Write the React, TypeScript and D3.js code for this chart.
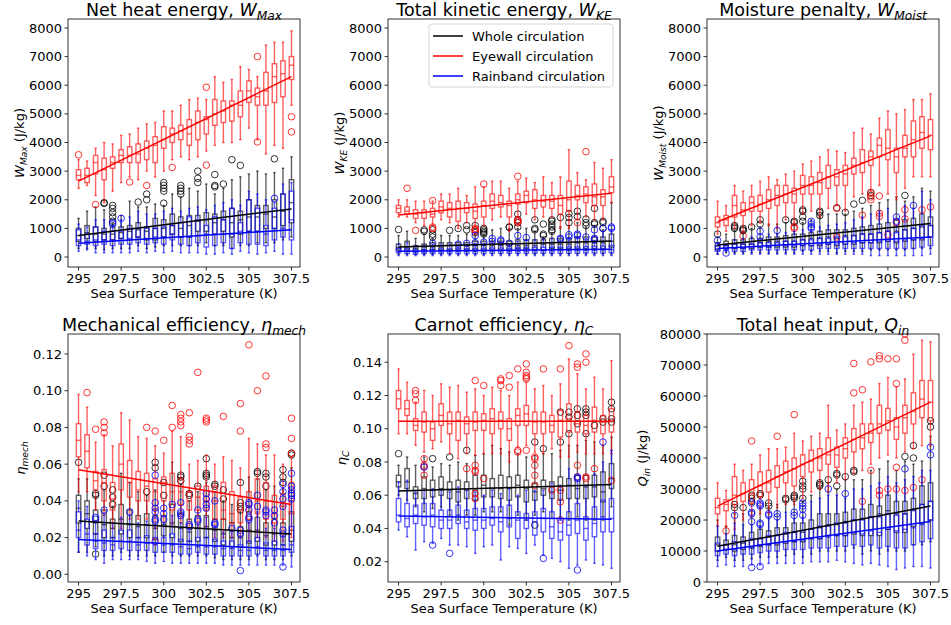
import React from "react";
import * as d3 from "d3";

type Box = [number, number, number, number, number]; // whisker low, q1, median, q3, whisker high
type Pt = [number, number]; // [sst, value]

const sst = [295, 295.5, 296, 296.5, 297, 297.5, 298, 298.5, 299, 299.5, 300, 300.5, 301, 301.5, 302, 302.5, 303, 303.5, 304, 304.5, 305, 305.5, 306, 306.5, 307, 307.5];
const xTicks = [295, 297.5, 300, 302.5, 305, 307.5];
const wTicks = [0, 1000, 2000, 3000, 4000, 5000, 6000, 7000, 8000];
const etaMechTicks = [0, 0.02, 0.04, 0.06, 0.08, 0.1, 0.12];
const etaCTicks = [0.02, 0.04, 0.06, 0.08, 0.1, 0.12, 0.14];
const qTicks = [0, 10000, 20000, 30000, 40000, 50000, 60000, 70000, 80000];
const legendLabels = ["Whole circulation", "Eyewall circulation", "Rainband circulation"];

// ---- Net heat energy W_Max
const wmaxWhole: Box[] = [[300,550,750,1000,1350],[300,650,850,1100,1600],[300,550,800,1050,1750],[250,600,800,1000,1650],[300,600,800,1050,1200],[300,650,850,1050,1450],[300,600,900,1100,1950],[400,700,950,1200,1750],[300,600,900,1050,1750],[350,600,1000,1350,1850],[400,700,1000,1300,1800],[400,800,1100,1500,2200],[400,700,1000,1400,2100],[400,700,1100,1450,2400],[400,900,1250,1450,2300],[500,900,1300,1550,2550],[400,800,1200,1500,2200],[400,900,1300,1600,2400],[300,700,1200,1700,2700],[400,800,1300,1600,2800],[400,900,1400,2000,2900],[500,900,1400,1800,3000],[500,1000,1500,1800,2900],[500,1000,1400,2000,2950],[600,1100,1600,2200,3100],[700,1200,1900,2700,3500]];
const wmaxEye: Box[] = [[2400,2700,2850,3050,3400],[2500,2600,2850,3100,3350],[2150,2900,3300,3550,3800],[1900,2700,3050,3450,4000],[2300,3100,3300,3500,3950],[2600,3300,3550,3750,4250],[2800,3300,3550,3850,4300],[2700,3300,3600,3950,4500],[3000,3400,3800,4050,4650],[2800,3300,3900,4200,4700],[3000,3800,4100,4550,5100],[3400,4000,4300,4500,5100],[3500,4100,4400,4600,5300],[3400,3900,4300,4800,5500],[3500,4100,4700,5100,5550],[3700,4300,4800,4900,5500],[3900,4600,5000,5500,6300],[4000,4700,5100,5450,6100],[4000,4750,5300,5450,6200],[4100,4900,5300,5800,6650],[4500,5400,5800,6150,6550],[4100,5300,5600,5900,6300],[3600,5300,5800,6450,7400],[3900,5400,6300,6750,7500],[3800,5600,6400,6850,7500],[5300,6200,6700,7000,7900]];
const wmaxRain: Box[] = [[200,400,600,950,1150],[250,450,550,800,1050],[150,400,600,1050,1300],[150,450,600,900,1300],[150,400,600,900,1100],[150,450,650,900,1300],[150,450,650,1000,1400],[200,500,700,1000,1600],[150,450,650,1000,1500],[200,500,700,1000,1500],[150,450,700,1050,1600],[200,600,800,1100,1700],[150,450,700,1200,1600],[150,400,700,1400,1700],[150,500,750,1300,1750],[100,350,800,1100,1650],[100,400,800,1400,1800],[150,500,800,1300,1900],[100,300,800,1700,2000],[200,500,900,1200,1800],[150,450,900,2000,2300],[100,450,900,1700,2200],[150,400,800,1100,2000],[200,600,1000,1700,1900],[100,700,1000,2200,2550],[100,600,1300,2300,2600]];
const wmaxWholeOut: Pt[] = [[296.5,1900],[296.5,1870],[297,1800],[297,1700],[297,1550],[297,1400],[297,1250],[298.5,1920],[299,2200],[299,2000],[300,2600],[300,2500],[300,2400],[300,2300],[300,1880],[301,2500],[301,2400],[301,2300],[301,2200],[302,3000],[302,2750],[302,2600],[303,2880],[303,2500],[303,2450],[303.5,2550],[304,3400],[304.5,3200],[306.5,3430]];
const wmaxEyeOut: Pt[] = [[295,3570],[296,1830],[298,2620],[299,2500],[300.5,3130],[302.5,5930],[302.5,3210],[305.5,7000],[305.5,4020],[307.5,4900],[307.5,4370]];
const wmaxRainOut: Pt[] = [[297,1150],[297,1200],[297.5,1350],[306.5,2050]];
const wmaxFit = { whole: [750, 1680], eye: [2650, 6300], rain: [480, 950] };

// ---- Total kinetic energy W_KE
const wkeWhole: Box[] = [[100,250,330,450,750],[100,250,350,550,900],[100,200,300,400,650],[100,250,350,450,800],[100,250,350,500,650],[100,250,350,500,750],[100,250,400,500,750],[100,250,400,500,750],[100,250,400,500,800],[100,250,400,550,800],[100,250,400,550,750],[100,250,400,550,950],[100,250,400,550,1000],[100,250,400,550,1000],[100,300,400,600,1000],[100,300,400,600,1000],[100,250,400,600,900],[100,250,450,600,700],[100,300,450,650,850],[100,300,450,650,1050],[100,300,450,650,1100],[100,300,500,700,1200],[100,300,500,700,1050],[100,300,500,700,1100],[100,300,500,700,950],[100,350,550,800,1900]];
const wkeEye: Box[] = [[1400,1550,1700,1800,2000],[1400,1500,1600,1750,2000],[1200,1350,1500,1650,1950],[1100,1350,1550,1650,1950],[1100,1400,1500,1700,1950],[1300,1550,1750,1950,2200],[1200,1400,1700,1900,2200],[1000,1250,1700,1950,2400],[1200,1550,1700,1900,2150],[1050,1350,1600,1850,2450],[1100,1400,1800,1950,2450],[1300,1700,1950,2200,2650],[1400,1750,1900,2150,2650],[900,1400,1800,1950,2400],[1400,1850,2000,2200,2650],[1500,1900,2150,2300,2750],[1300,1700,2000,2350,2600],[1400,1750,1950,2150,2800],[1400,1700,1950,2150,2600],[1000,1500,1800,2150,2800],[1000,1600,2000,2650,3750],[1300,2000,2150,2500,2950],[1400,1900,2200,2450,2700],[1300,1800,2100,2550,3300],[1300,1800,2100,2350,3100],[1900,2250,2450,2800,3400]];
const wkeRain: Box[] = [[50,150,200,300,450],[50,120,200,300,500],[50,100,170,250,400],[50,120,180,260,420],[50,120,180,270,450],[50,120,190,280,450],[50,120,190,280,450],[50,120,200,290,430],[50,120,200,290,440],[50,120,200,300,480],[50,120,200,300,480],[50,130,210,310,500],[50,130,210,310,520],[50,130,200,300,450],[50,130,210,320,550],[50,130,210,320,600],[50,130,220,330,600],[50,130,220,340,620],[50,130,220,340,650],[50,130,230,340,600],[50,130,230,350,650],[50,130,230,350,700],[50,140,240,360,650],[50,140,240,370,580],[50,140,250,380,900],[50,150,260,400,950]];
const wkeWholeOut: Pt[] = [[295,960],[296.5,950],[296.5,900],[297,950],[297,800],[297,700],[298,930],[298.5,1000],[299,1100],[299,950],[299.5,1100],[299.5,950],[299.5,850],[300,1000],[300,950],[300,900],[300,850],[300,800],[301.5,1050],[301.5,1040],[302,1500],[302,1300],[302,1200],[302,1050],[303,1300],[303,1000],[303,950],[303.5,1150],[303.5,800],[303.5,750],[304,1300],[304,1250],[304,1150],[304,1050],[304,950],[304,900],[304.5,1380],[305,1520],[305,1380],[305,1200],[305.5,1600],[305.5,1420],[306,1330],[306,1200],[306,1100],[306.5,1700],[306.5,1200],[306.5,1150],[307,1250],[307,1200],[307,1000]];
const wkeEyeOut: Pt[] = [[295.5,2400],[296,930],[297,1970],[297,1050],[297,1000],[299.5,1000],[299.5,950],[299.5,900],[300,2550],[302,2820],[302,1300],[302,1250],[302,1200],[305.5,1200],[306,3680]];
const wkeRainOut: Pt[] = [[297,480],[298.5,450],[299,480],[299.5,750],[299.5,500],[300,520],[300.5,650],[300.5,550],[301,600],[301,550],[301.5,480],[302,750],[302.5,680],[304.5,650],[304.5,620],[305,780],[305,700],[305.5,800],[305.5,750],[306,700],[306.5,950],[306.5,650],[306.5,600],[307,1000],[307.5,1050],[307.5,1000]];
const wkeFit = { whole: [350, 560], eye: [1470, 2230], rain: [200, 270] };

// ---- Moisture penalty W_Moist
const wmoistWhole: Box[] = [[100,250,380,500,700],[150,300,400,550,800],[150,300,450,600,900],[150,300,450,600,850],[150,300,450,650,1000],[150,350,500,650,1050],[150,350,550,700,1150],[150,350,550,700,1150],[150,350,550,750,1200],[150,350,550,800,1150],[200,400,600,800,1200],[200,400,650,850,1300],[200,400,650,900,1400],[200,450,700,950,1500],[150,400,650,950,1500],[200,450,750,950,1500],[200,450,750,1000,1600],[200,500,800,1050,1700],[250,500,800,1100,1800],[250,500,850,1150,1900],[250,550,900,1200,2000],[250,500,900,1300,2100],[250,550,950,1300,1950],[300,600,1000,1350,2100],[300,600,1050,1500,2400],[300,700,1100,1400,2300]];
const wmoistEye: Box[] = [[800,1050,1200,1400,1950],[900,1100,1300,1450,1800],[1000,1400,1800,2150,2500],[900,1450,1650,1900,2300],[1100,1600,1900,2100,2500],[1200,1600,1850,2150,2650],[1100,1700,2000,2350,2800],[1000,1800,2150,2500,2700],[1300,1900,2200,2500,2900],[1200,1900,2200,2400,3000],[1500,2200,2500,2850,3250],[1600,2200,2500,2800,3350],[1400,2200,2600,2950,3500],[1700,2400,2800,3200,3750],[1800,2500,2800,3050,3700],[1600,2500,2900,3200,3650],[2100,2900,3200,3450,4350],[2200,2950,3300,3750,4500],[2300,3200,3500,3700,4300],[2500,3500,3900,4150,4850],[2200,3400,3800,4450,5100],[2000,2950,3500,3800,5000],[2400,3500,3800,4250,5150],[2800,3500,4100,4750,5500],[2800,3800,4350,4900,5500],[2800,3750,4250,4800,5700]];
const wmoistRain: Box[] = [[100,200,280,400,500],[200,250,300,400,450],[100,200,300,450,600],[100,200,300,450,650],[100,250,350,450,700],[100,250,350,500,650],[100,250,350,500,800],[100,250,400,500,800],[100,250,400,550,850],[100,250,400,550,900],[100,250,400,600,950],[100,250,400,600,950],[100,300,450,650,1050],[100,300,450,650,1100],[100,300,450,700,1150],[100,300,450,700,1200],[100,300,500,750,1300],[100,300,500,800,1400],[50,300,500,800,1500],[50,300,550,850,1600],[50,300,550,900,1700],[50,300,550,850,1100],[50,300,600,950,1800],[50,300,600,1000,1700],[50,350,650,1100,2300],[100,400,700,1100,2000]];
const wmoistWholeOut: Pt[] = [[295,800],[296,1100],[296,1050],[296,1000],[296.5,1000],[296.5,950],[296.5,920],[297,1050],[297.5,1300],[297.5,1150],[299,1300],[299.5,1250],[299.5,1200],[300,1650],[300,1600],[300,1400],[300,1250],[301,1600],[301,1550],[301,1450],[302,1720],[302.5,1560],[303,1850],[303.5,1980],[304,2250],[304,2150],[306,2150]];
const wmoistEyeOut: Pt[] = [[296.5,740],[299.5,1050],[299.5,1000],[302,1700],[302,700],[303.5,1460],[304,2250],[304,2100],[304,2000],[304.5,2130],[304.5,1530],[304.5,1420],[305,780],[305.5,1200],[306,1650],[306,1330],[307,1650],[307.5,1750]];
const wmoistRainOut: Pt[] = [[295,580],[295.5,140],[297.5,900],[297.5,700],[298.5,930],[300.5,1250],[300.5,1150],[300.5,1050],[300.5,1000],[305.5,1400],[305.5,1250],[306.5,1800]];
const wmoistFit = { whole: [420, 1170], eye: [1230, 4230], rain: [300, 700] };

// ---- Mechanical efficiency eta_mech
const etaMechWhole: Box[] = [[0.012,0.028,0.036,0.043,0.052],[0.012,0.025,0.033,0.040,0.052],[0.015,0.022,0.028,0.035,0.042],[0.010,0.020,0.027,0.035,0.046],[0.010,0.020,0.025,0.030,0.037],[0.012,0.022,0.030,0.038,0.055],[0.010,0.020,0.027,0.035,0.050],[0.010,0.020,0.026,0.032,0.045],[0.010,0.020,0.027,0.033,0.043],[0.010,0.019,0.025,0.032,0.046],[0.012,0.021,0.027,0.032,0.040],[0.010,0.020,0.028,0.038,0.061],[0.010,0.018,0.025,0.033,0.049],[0.010,0.018,0.023,0.030,0.040],[0.010,0.018,0.025,0.032,0.045],[0.010,0.020,0.026,0.032,0.050],[0.009,0.018,0.024,0.030,0.045],[0.008,0.016,0.022,0.030,0.040],[0.008,0.015,0.020,0.028,0.038],[0.008,0.015,0.020,0.026,0.034],[0.008,0.017,0.024,0.034,0.053],[0.010,0.018,0.024,0.031,0.052],[0.008,0.016,0.021,0.028,0.046],[0.008,0.016,0.022,0.030,0.048],[0.008,0.016,0.022,0.028,0.046],[0.010,0.018,0.024,0.034,0.058]];
const etaMechEye: Box[] = [[0.045,0.064,0.073,0.082,0.098],[0.045,0.058,0.067,0.076,0.091],[0.035,0.046,0.051,0.056,0.072],[0.032,0.040,0.050,0.057,0.076],[0.025,0.035,0.041,0.050,0.070],[0.025,0.046,0.060,0.071,0.088],[0.030,0.042,0.050,0.062,0.084],[0.030,0.040,0.046,0.056,0.075],[0.030,0.040,0.048,0.055,0.074],[0.025,0.035,0.045,0.052,0.070],[0.028,0.040,0.050,0.053,0.066],[0.027,0.035,0.045,0.055,0.078],[0.028,0.038,0.045,0.052,0.075],[0.025,0.035,0.040,0.045,0.060],[0.025,0.035,0.042,0.048,0.062],[0.025,0.035,0.040,0.048,0.065],[0.020,0.030,0.040,0.048,0.060],[0.020,0.030,0.035,0.050,0.064],[0.020,0.028,0.033,0.045,0.062],[0.020,0.028,0.035,0.042,0.058],[0.018,0.030,0.037,0.045,0.074],[0.020,0.033,0.040,0.052,0.071],[0.020,0.030,0.040,0.050,0.065],[0.018,0.028,0.033,0.043,0.065],[0.018,0.030,0.037,0.044,0.060],[0.020,0.033,0.040,0.050,0.064]];
const etaMechRain: Box[] = [[0.012,0.020,0.024,0.034,0.040],[0.010,0.016,0.022,0.030,0.037],[0.008,0.014,0.018,0.022,0.029],[0.006,0.013,0.017,0.024,0.033],[0.008,0.013,0.016,0.020,0.028],[0.008,0.014,0.018,0.024,0.031],[0.008,0.013,0.018,0.024,0.032],[0.008,0.013,0.016,0.020,0.028],[0.007,0.013,0.017,0.021,0.029],[0.006,0.012,0.016,0.020,0.027],[0.007,0.012,0.016,0.020,0.028],[0.006,0.012,0.016,0.022,0.032],[0.006,0.011,0.015,0.019,0.028],[0.006,0.011,0.014,0.018,0.025],[0.006,0.012,0.015,0.020,0.027],[0.006,0.011,0.015,0.020,0.031],[0.006,0.011,0.015,0.019,0.026],[0.005,0.010,0.014,0.018,0.023],[0.005,0.010,0.014,0.018,0.024],[0.005,0.010,0.013,0.016,0.021],[0.005,0.010,0.013,0.018,0.028],[0.005,0.011,0.015,0.020,0.034],[0.005,0.010,0.013,0.017,0.025],[0.005,0.010,0.013,0.018,0.025],[0.005,0.010,0.013,0.016,0.021],[0.004,0.012,0.016,0.026,0.040]];
const etaMechWholeOut: Pt[] = [[295,0.061],[296,0.044],[296,0.043],[296,0.011],[296.5,0.054],[296.5,0.048],[297,0.046],[297,0.042],[297,0.038],[299,0.045],[299.5,0.061],[299.5,0.058],[300,0.050],[300,0.043],[301,0.054],[301,0.053],[301,0.051],[301.5,0.044],[301.5,0.043],[302,0.048],[302.5,0.063],[302.5,0.055],[302.5,0.054],[302.5,0.053],[303,0.049],[303,0.048],[303.5,0.046],[303.5,0.041],[304.5,0.050],[304.5,0.039],[304.5,0.037],[304.5,0.035],[305.5,0.056],[305.5,0.055],[306,0.055],[306,0.053],[306,0.048],[307,0.057],[307,0.053],[307,0.050],[307.5,0.066],[307.5,0.065]];
const etaMechEyeOut: Pt[] = [[295.5,0.099],[296,0.079],[296.5,0.083],[296.5,0.080],[296.5,0.077],[299,0.080],[299.5,0.078],[299.5,0.018],[300,0.073],[300.5,0.092],[300.5,0.080],[301,0.087],[301,0.085],[301,0.083],[301,0.081],[301.5,0.088],[301.5,0.075],[301.5,0.073],[301.5,0.071],[302,0.110],[302.5,0.085],[302.5,0.084],[302.5,0.083],[303.5,0.086],[304.5,0.093],[304.5,0.078],[305,0.125],[305.5,0.100],[306,0.108],[306,0.071],[306,0.069],[307.5,0.085],[307.5,0.074],[307.5,0.066]];
const etaMechRainOut: Pt[] = [[296,0.031],[296,0.030],[296.5,0.035],[298,0.034],[299.5,0.054],[299.5,0.039],[299.5,0.036],[299.5,0.034],[299.5,0.030],[299.5,0.029],[300,0.036],[300,0.033],[300,0.030],[300.5,0.038],[301,0.039],[301,0.034],[301,0.033],[301,0.032],[301.5,0.027],[301.5,0.026],[302,0.035],[302,0.030],[302,0.029],[302.5,0.044],[302.5,0.041],[302.5,0.038],[302.5,0.036],[303,0.040],[303,0.028],[303,0.027],[304,0.025],[304.5,0.024],[304.5,0.022],[304.5,0.002],[305,0.039],[305,0.038],[305,0.035],[305,0.031],[305,0.030],[305.5,0.043],[305.5,0.037],[306,0.035],[306,0.034],[306,0.032],[306.5,0.035],[306.5,0.032],[306.5,0.028],[307,0.049],[307,0.045],[307,0.041],[307,0.037],[307,0.024],[307,0.022],[307,0.004],[307.5,0.055],[307.5,0.048],[307.5,0.046],[307.5,0.044],[307.5,0.043],[307.5,0.041]];
const etaMechFit = { whole: [0.029, 0.022], eye: [0.057, 0.038], rain: [0.019, 0.0135] };

// ---- Carnot efficiency eta_C
const etaCWhole: Box[] = [[0.060,0.065,0.068,0.072,0.078],[0.057,0.064,0.068,0.076,0.083],[0.053,0.058,0.061,0.065,0.078],[0.050,0.058,0.064,0.071,0.083],[0.052,0.059,0.063,0.069,0.077],[0.053,0.060,0.064,0.071,0.079],[0.048,0.058,0.063,0.068,0.078],[0.045,0.056,0.062,0.069,0.080],[0.048,0.058,0.063,0.068,0.079],[0.048,0.057,0.063,0.072,0.084],[0.050,0.059,0.066,0.072,0.085],[0.050,0.059,0.064,0.070,0.090],[0.050,0.058,0.064,0.072,0.088],[0.042,0.057,0.064,0.071,0.086],[0.048,0.059,0.066,0.072,0.085],[0.045,0.056,0.064,0.069,0.083],[0.048,0.057,0.062,0.067,0.084],[0.050,0.060,0.064,0.069,0.085],[0.046,0.058,0.062,0.068,0.085],[0.047,0.057,0.063,0.071,0.087],[0.045,0.058,0.066,0.070,0.090],[0.047,0.058,0.064,0.072,0.090],[0.045,0.058,0.065,0.072,0.093],[0.045,0.059,0.065,0.072,0.092],[0.045,0.056,0.062,0.074,0.090],[0.053,0.064,0.070,0.079,0.095]];
const etaCEye: Box[] = [[0.097,0.112,0.118,0.123,0.136],[0.097,0.108,0.112,0.117,0.128],[0.090,0.099,0.102,0.106,0.116],[0.086,0.098,0.104,0.110,0.123],[0.088,0.093,0.100,0.104,0.120],[0.092,0.102,0.108,0.115,0.127],[0.085,0.097,0.103,0.110,0.125],[0.082,0.093,0.105,0.110,0.126],[0.085,0.097,0.103,0.107,0.122],[0.084,0.099,0.104,0.110,0.124],[0.085,0.099,0.105,0.109,0.120],[0.085,0.097,0.106,0.112,0.125],[0.085,0.100,0.105,0.110,0.123],[0.080,0.093,0.100,0.106,0.120],[0.089,0.102,0.108,0.112,0.128],[0.090,0.102,0.109,0.114,0.128],[0.086,0.097,0.104,0.110,0.124],[0.085,0.097,0.104,0.110,0.126],[0.088,0.098,0.102,0.108,0.120],[0.083,0.095,0.105,0.111,0.127],[0.083,0.098,0.106,0.115,0.142],[0.086,0.098,0.103,0.110,0.133],[0.085,0.097,0.102,0.108,0.124],[0.085,0.098,0.105,0.113,0.131],[0.085,0.097,0.104,0.108,0.124],[0.085,0.098,0.105,0.112,0.141]];
const etaCRain: Box[] = [[0.039,0.044,0.048,0.058,0.068],[0.035,0.041,0.046,0.055,0.069],[0.027,0.043,0.048,0.054,0.062],[0.032,0.042,0.047,0.055,0.063],[0.031,0.041,0.048,0.055,0.064],[0.034,0.040,0.045,0.051,0.063],[0.030,0.040,0.045,0.051,0.062],[0.030,0.043,0.048,0.054,0.065],[0.029,0.040,0.044,0.051,0.063],[0.025,0.039,0.045,0.052,0.062],[0.029,0.040,0.045,0.052,0.060],[0.030,0.042,0.046,0.053,0.063],[0.021,0.038,0.044,0.053,0.061],[0.029,0.041,0.046,0.054,0.064],[0.028,0.034,0.045,0.050,0.060],[0.025,0.040,0.045,0.049,0.063],[0.030,0.036,0.044,0.050,0.063],[0.024,0.038,0.046,0.052,0.063],[0.022,0.034,0.041,0.050,0.067],[0.020,0.033,0.038,0.045,0.066],[0.016,0.036,0.042,0.050,0.076],[0.018,0.037,0.045,0.055,0.069],[0.021,0.033,0.040,0.047,0.066],[0.019,0.035,0.043,0.053,0.073],[0.018,0.038,0.047,0.057,0.080],[0.016,0.038,0.046,0.058,0.087]];
const etaCWholeOut: Pt[] = [[295,0.085],[297,0.082],[298,0.083],[299,0.087],[303,0.092],[303,0.042],[303.5,0.088],[304.5,0.110],[304.5,0.092],[305,0.110],[305,0.107],[305,0.097],[305.5,0.112],[305.5,0.108],[305.5,0.103],[306,0.112],[306,0.110],[306,0.108],[306,0.097],[306.5,0.102],[307,0.106],[307,0.104],[307.5,0.116],[307.5,0.112],[307.5,0.106],[307.5,0.104]];
const etaCEyeOut: Pt[] = [[296,0.123],[296,0.121],[296,0.117],[296.5,0.082],[296.5,0.078],[296.5,0.077],[296.5,0.072],[299,0.076],[299.5,0.129],[299.5,0.078],[299.5,0.075],[299.5,0.074],[299.5,0.061],[299.5,0.058],[300,0.126],[300,0.070],[301,0.130],[301,0.129],[301,0.126],[301.5,0.132],[301.5,0.125],[302,0.136],[302,0.087],[302,0.086],[302.5,0.139],[302.5,0.134],[302.5,0.132],[302.5,0.131],[302.5,0.130],[302.5,0.087],[303,0.083],[303,0.082],[303,0.078],[303,0.072],[303,0.066],[303.5,0.136],[304,0.063],[304.5,0.136],[304.5,0.063],[304.5,0.056],[304.5,0.045],[305,0.150],[305.5,0.139],[305.5,0.137],[305.5,0.078],[305.5,0.071],[306,0.145],[306,0.140],[306,0.071],[306,0.070],[306.5,0.076],[307.5,0.069]];
const etaCRainOut: Pt[] = [[296.5,0.077],[297,0.030],[298,0.025],[303.5,0.022],[305.5,0.015],[305.5,0.071],[305.5,0.070],[307,0.092]];
const etaCFit = { whole: [0.0625, 0.0665], eye: [0.1045, 0.1045], rain: [0.0475, 0.0455] };

// ---- Total heat input Q_in
const qinWhole: Box[] = [[7000,10000,12000,14500,20000],[8000,10500,12000,13500,18000],[7000,10000,12000,15000,22000],[7000,10500,12500,14500,22000],[7500,11000,13500,16000,23000],[8000,11500,14000,17000,24000],[8000,12000,14500,16500,24000],[8000,12000,15000,17500,25000],[8500,12500,15500,17500,26000],[9000,13000,16000,19000,26000],[8000,13000,16000,19000,26000],[9000,14000,17000,20000,28000],[10000,14000,17500,22000,30000],[10000,15000,18500,22000,32000],[10000,15000,18500,22000,30000],[10000,15000,19500,22500,33000],[11000,15500,20000,23500,33000],[9000,15000,20500,23500,33000],[10000,15000,21000,25000,36000],[9000,15000,22000,24500,36500],[10000,17000,23000,28000,39000],[10000,16000,22000,26000,36000],[10000,16000,22000,26000,39000],[12000,18000,23500,27000,38000],[12000,19000,25000,31000,39000],[13000,20000,26000,32000,47000]];
const qinEye: Box[] = [[18000,22000,24000,27000,32000],[18000,23000,25000,26500,29500],[17000,25000,28000,34000,38000],[20000,26000,28500,32000,36000],[21000,25500,28500,33000,38000],[22000,27500,31000,35500,41000],[22000,29000,32000,36000,43000],[24000,30500,34000,37500,43000],[25000,32000,35500,39000,43500],[25000,31000,36500,40000,48000],[27000,34000,38000,41000,45500],[29000,35500,39000,42500,47000],[30000,36000,40000,43000,48000],[29000,38000,41000,46500,57000],[32000,37000,41000,43500,49000],[33000,40000,43000,46500,51000],[35000,42000,46000,49500,57000],[36000,43000,46500,51000,58000],[38000,45000,48000,51000,59000],[40000,48000,51000,57000,64000],[41000,49000,52000,56000,66000],[40000,46000,50000,53000,63000],[42000,48000,53000,57000,65500],[43000,51000,55000,61000,73500],[44000,53000,59000,65000,78000],[44000,52000,58000,65000,77500]];
const qinRain: Box[] = [[5000,8500,10000,12500,18000],[5500,9000,10500,12000,15500],[5000,8500,10500,13000,19000],[5000,9000,11000,13000,18500],[5500,9000,11000,14000,18500],[5500,9500,12000,14000,18000],[6000,10000,12000,15000,20500],[6000,10000,12500,15000,20000],[6000,10500,13000,16000,22500],[6000,10500,13000,16000,20500],[6000,10500,13500,16500,21000],[6500,11000,14000,17000,26000],[6500,11000,14000,18000,27000],[6500,11000,14500,18000,28000],[7000,11500,15000,19000,28000],[6500,11500,15000,19000,27000],[6000,12000,16000,20000,30000],[5500,11500,15500,20000,30000],[6000,12000,16500,21000,31000],[5500,11000,16000,21000,32000],[5000,11500,17000,22000,34000],[4000,11000,16500,21500,32000],[4500,11000,17000,22000,33000],[5000,12000,17500,23000,34000],[5000,13000,18500,25000,36000],[4500,14000,20000,26000,36000]];
const qinWholeOut: Pt[] = [[296,25000],[296,24000],[296.5,24000],[297,28000],[297,27000],[297,26000],[297.5,28500],[297.5,28000],[298,25500],[298,24500],[299,27000],[299,26500],[299.5,28000],[299.5,27500],[299.5,27000],[300,32500],[300,31000],[300,30000],[300,27000],[301,32000],[301,31500],[301,31000],[301.5,33000],[302,35000],[302,34500],[302,31000],[302.5,34000],[303,36000],[303,35500],[306,40500],[306.5,44000],[306.5,40000],[307.5,52000],[307.5,50000]];
const qinEyeOut: Pt[] = [[295.5,16500],[297,45500],[298.5,47000],[299.5,54000],[303,70500],[303,61000],[303.5,62000],[303.5,26000],[304,71000],[304,36000],[304.5,73000],[304.5,72000],[304.5,29500],[304.5,28000],[305,72000],[305,30000],[305.5,72000],[305.5,64000],[305.5,37000],[305.5,30000],[306,80000],[306,78000],[306,29500],[306.5,30500],[307,33000]];
const qinRainOut: Pt[] = [[296,21500],[297,25500],[297,22500],[297,22000],[297,19500],[297,4700],[297.5,25500],[297.5,25000],[297.5,24500],[297.5,19000],[297.5,18500],[297.5,5000],[298,22000],[298,21500],[298.5,22000],[298.5,21000],[299.5,22500],[299.5,21500],[300,25500],[300,24500],[300,23500],[300,21500],[301.5,30000],[302.5,28500],[306,36500],[307.5,43500],[307.5,41000]];
const qinFit = { whole: [11500, 24500], eye: [24500, 58000], rain: [10000, 19500] };

const COLORS = { whole: "#000000", eye: "#ff0000", rain: "#0000ff" };
const FONT = "DejaVu Sans, sans-serif";
const PW = 232;
const PH = 248;
const X_DOMAIN: [number, number] = [294.38, 308.0];

type Series = { color: string; boxes: Box[]; out: Pt[]; fit: number[] };
type PanelCfg = {
  id: string; left: number; top: number;
  title: string; sym: string; sub: string; unit: string;
  yDomain: [number, number]; ticks: number[]; fmt: (v: number) => string;
  labelOff: number; series: Series[]; legend?: boolean;
};

const fmtInt = d3.format("d");
const fmt2 = d3.format(".2f");

const panels: PanelCfg[] = [
  { id: "p1", left: 68, top: 19, title: "Net heat energy, ", sym: "W", sub: "Max", unit: " (J/kg)", yDomain: [-348, 8313], ticks: wTicks, fmt: fmtInt, labelOff: 44,
    series: [
      { color: COLORS.whole, boxes: wmaxWhole, out: wmaxWholeOut, fit: wmaxFit.whole },
      { color: COLORS.eye, boxes: wmaxEye, out: wmaxEyeOut, fit: wmaxFit.eye },
      { color: COLORS.rain, boxes: wmaxRain, out: wmaxRainOut, fit: wmaxFit.rain },
    ] },
  { id: "p2", left: 388, top: 19, title: "Total kinetic energy, ", sym: "W", sub: "KE", unit: " (J/kg)", yDomain: [-348, 8313], ticks: wTicks, fmt: fmtInt, labelOff: 44, legend: true,
    series: [
      { color: COLORS.whole, boxes: wkeWhole, out: wkeWholeOut, fit: wkeFit.whole },
      { color: COLORS.eye, boxes: wkeEye, out: wkeEyeOut, fit: wkeFit.eye },
      { color: COLORS.rain, boxes: wkeRain, out: wkeRainOut, fit: wkeFit.rain },
    ] },
  { id: "p3", left: 707, top: 19, title: "Moisture penalty, ", sym: "W", sub: "Moist", unit: " (J/kg)", yDomain: [-348, 8313], ticks: wTicks, fmt: fmtInt, labelOff: 44,
    series: [
      { color: COLORS.whole, boxes: wmoistWhole, out: wmoistWholeOut, fit: wmoistFit.whole },
      { color: COLORS.eye, boxes: wmoistEye, out: wmoistEyeOut, fit: wmoistFit.eye },
      { color: COLORS.rain, boxes: wmoistRain, out: wmoistRainOut, fit: wmoistFit.rain },
    ] },
  { id: "p4", left: 68, top: 334, title: "Mechanical efficiency, ", sym: "η", sub: "mech", unit: "", yDomain: [-0.0042, 0.1309], ticks: etaMechTicks, fmt: fmt2, labelOff: 43,
    series: [
      { color: COLORS.whole, boxes: etaMechWhole, out: etaMechWholeOut, fit: etaMechFit.whole },
      { color: COLORS.eye, boxes: etaMechEye, out: etaMechEyeOut, fit: etaMechFit.eye },
      { color: COLORS.rain, boxes: etaMechRain, out: etaMechRainOut, fit: etaMechFit.rain },
    ] },
  { id: "p5", left: 388, top: 334, title: "Carnot efficiency, ", sym: "η", sub: "C", unit: "", yDomain: [0.00778, 0.157], ticks: etaCTicks, fmt: fmt2, labelOff: 42,
    series: [
      { color: COLORS.whole, boxes: etaCWhole, out: etaCWholeOut, fit: etaCFit.whole },
      { color: COLORS.eye, boxes: etaCEye, out: etaCEyeOut, fit: etaCFit.eye },
      { color: COLORS.rain, boxes: etaCRain, out: etaCRainOut, fit: etaCFit.rain },
    ] },
  { id: "p6", left: 707, top: 334, title: "Total heat input, ", sym: "Q", sub: "in", unit: " (J/kg)", yDomain: [0, 80000], ticks: qTicks, fmt: fmtInt, labelOff: 60,
    series: [
      { color: COLORS.whole, boxes: qinWhole, out: qinWholeOut, fit: qinFit.whole },
      { color: COLORS.eye, boxes: qinEye, out: qinEyeOut, fit: qinFit.eye },
      { color: COLORS.rain, boxes: qinRain, out: qinRainOut, fit: qinFit.rain },
    ] },
];

function MathText({ prefix, sym, sub, suffix, fs }: { prefix: string; sym: string; sub: string; suffix: string; fs: number }) {
  const shift = fs * 0.22;
  return (
    <>
      {prefix && <tspan>{prefix}</tspan>}
      <tspan fontStyle="italic">{sym}</tspan>
      <tspan fontStyle="italic" fontSize={fs * 0.7} dy={shift}>{sub}</tspan>
      {suffix ? <tspan dy={-shift}>{suffix}</tspan> : null}
    </>
  );
}

function Panel({ cfg }: { cfg: PanelCfg }) {
  const { left, top } = cfg;
  const bottom = top + PH;
  const x = d3.scaleLinear().domain(X_DOMAIN).range([left, left + PW]);
  const y = d3.scaleLinear().domain(cfg.yDomain).range([bottom, top]);
  const bw = x(295.13) - x(294.87);
  const cw = bw * 0.55;
  const line = d3.line<[number, number]>().x((d) => x(d[0])).y((d) => y(d[1]));

  return (
    <g fontFamily={FONT}>
      <defs>
        <clipPath id={`clip-${cfg.id}`}>
          <rect x={left} y={top} width={PW} height={PH} />
        </clipPath>
      </defs>
      <rect x={left} y={top} width={PW} height={PH} fill="#fff" />
      <g clipPath={`url(#clip-${cfg.id})`}>
        {cfg.series.map((s, si) => (
          <g key={si} stroke={s.color} fill="none">
            {s.boxes.map((b, i) => {
              const cx = x(sst[i]);
              return (
                <g key={i} strokeOpacity={0.62} strokeWidth={1.4}>
                  <line x1={cx} x2={cx} y1={y(b[0])} y2={y(b[1])} />
                  <line x1={cx} x2={cx} y1={y(b[3])} y2={y(b[4])} />
                  <line x1={cx - cw / 2} x2={cx + cw / 2} y1={y(b[0])} y2={y(b[0])} />
                  <line x1={cx - cw / 2} x2={cx + cw / 2} y1={y(b[4])} y2={y(b[4])} />
                  <rect x={cx - bw / 2} y={y(b[3])} width={bw} height={Math.max(0.5, y(b[1]) - y(b[3]))} />
                  <line x1={cx - bw / 2} x2={cx + bw / 2} y1={y(b[2])} y2={y(b[2])} />
                </g>
              );
            })}
            {s.out.map((p, i) => (
              <circle key={`o${i}`} cx={x(p[0])} cy={y(p[1])} r={3.3} strokeWidth={1} strokeOpacity={0.8} />
            ))}
          </g>
        ))}
        {cfg.series.map((s, si) => (
          <path key={`f${si}`} d={line([[sst[0], s.fit[0]], [sst[sst.length - 1], s.fit[1]]]) || ""} stroke={s.color} strokeWidth={1.5} fill="none" />
        ))}
      </g>
      <rect x={left} y={top} width={PW} height={PH} fill="none" stroke="#000" strokeWidth={0.8} />
      {xTicks.map((t) => (
        <g key={`x${t}`}>
          <line x1={x(t)} x2={x(t)} y1={bottom} y2={bottom + 3.5} stroke="#000" strokeWidth={0.8} />
          <text x={x(t)} y={bottom + 16} textAnchor="middle" fontSize={13} fill="#000">{t}</text>
        </g>
      ))}
      <text x={left + PW / 2} y={bottom + 31} textAnchor="middle" fontSize={13} fill="#000">Sea Surface Temperature (K)</text>
      {cfg.ticks.map((t) => (
        <g key={`y${t}`}>
          <line x1={left - 3.5} x2={left} y1={y(t)} y2={y(t)} stroke="#000" strokeWidth={0.8} />
          <text x={left - 6} y={y(t) + 4.6} textAnchor="end" fontSize={13} fill="#000">{cfg.fmt(t)}</text>
        </g>
      ))}
      <text transform={`translate(${left - cfg.labelOff},${top + PH / 2}) rotate(-90)`} textAnchor="middle" fontSize={13} fill="#000">
        <MathText prefix="" sym={cfg.sym} sub={cfg.sub} suffix={cfg.unit} fs={13} />
      </text>
      <text x={left + PW / 2} y={top - 3} textAnchor="middle" fontSize={17.5} fill="#000">
        <MathText prefix={cfg.title} sym={cfg.sym} sub={cfg.sub} suffix="" fs={17.5} />
      </text>
      {cfg.legend && (
        <g>
          <rect x={left + 41} y={top + 5} width={184} height={63} rx={3} fill="#fff" fillOpacity={0.8} stroke="#cccccc" strokeWidth={0.8} />
          {cfg.series.map((s, i) => (
            <g key={`l${i}`}>
              <line x1={left + 45} x2={left + 75} y1={top + 17 + i * 20} y2={top + 17 + i * 20} stroke={s.color} strokeWidth={1.5} />
              <text x={left + 84} y={top + 21.5 + i * 20} fontSize={13} fill="#000">{legendLabels[i]}</text>
            </g>
          ))}
        </g>
      )}
    </g>
  );
}

export default function App() {
  return (
    <svg width={951} height={625} style={{ position: "absolute", left: 0, top: 0, background: "#fff" }}>
      <rect width={951} height={625} fill="#fff" />
      {panels.map((p) => (
        <Panel key={p.id} cfg={p} />
      ))}
    </svg>
  );
}
